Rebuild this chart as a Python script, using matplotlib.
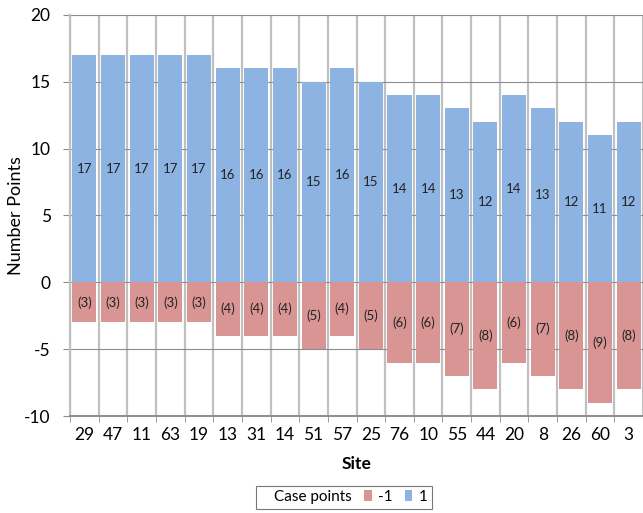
import matplotlib
matplotlib.use("Agg")
import matplotlib.pyplot as plt
import numpy as np
from matplotlib.patches import Patch
from matplotlib.lines import Line2D

plt.rcParams["font.family"] = ["Lato", "DejaVu Sans"]
plt.rcParams["axes.unicode_minus"] = False

sites = ["29", "47", "11", "63", "19", "13", "31", "14", "51", "57",
         "25", "76", "10", "55", "44", "20", "8", "26", "60", "3"]
pos_pts = [17, 17, 17, 17, 17, 16, 16, 16, 15, 16, 15, 14, 14, 13, 12, 14, 13, 12, 11, 12]
neg_pts = [3, 3, 3, 3, 3, 4, 4, 4, 5, 4, 5, 6, 6, 7, 8, 6, 7, 8, 9, 8]

BLUE = "#8db3e2"
RED = "#d99594"
GRID = "#c0c0c0"
AXIS = "#8c8c8c"

fig = plt.figure(figsize=(6.43, 5.13), dpi=100)
ax = fig.add_axes([0.109, 0.189, 0.891, 0.782])

x = np.arange(len(sites))
neg = -np.array(neg_pts)
ax.bar(x, pos_pts, width=0.84, color=BLUE, zorder=3)
ax.bar(x, neg, width=0.84, color=RED, zorder=3)

for xi, p, n in zip(x, pos_pts, neg):
    ax.text(xi, p / 2, str(p), ha="center", va="center", fontsize=9.5, color="#222222", zorder=4)
    ax.text(xi, n / 2, "(%d)" % -n, ha="center", va="center", fontsize=9.5, color="#222222", zorder=4)

ax.set_xlim(-0.5, len(sites) - 0.5)
ax.set_ylim(-10, 20)
ax.set_yticks(range(-10, 21, 5))
ax.set_xticks(x)
ax.set_xticklabels(sites)
ax.set_xticks(np.arange(-0.5, len(sites)), minor=True)

# category separators and value grid
ax.grid(axis="x", which="minor", color=GRID, lw=1.6, zorder=1)
ax.grid(axis="y", which="major", color=AXIS, lw=0.8, zorder=2)
ax.tick_params(axis="x", which="major", length=0, labelsize=12.5, pad=8)
ax.tick_params(axis="x", which="minor", length=4, color=AXIS)
ax.tick_params(axis="y", length=5, color=AXIS, labelsize=12.5, pad=9)
for s in ("top", "right"):
    ax.spines[s].set_visible(False)
ax.spines["left"].set_color(GRID)
ax.spines["left"].set_linewidth(1.6)
ax.spines["bottom"].set_color(AXIS)
ax.spines["bottom"].set_linewidth(1.4)

ax.set_xlabel("Site", fontsize=12.5, fontweight="bold", labelpad=9)
ax.set_ylabel("Number Points", fontsize=13, labelpad=0)

handles = [Line2D([], [], ls="none"),
           Patch(facecolor=RED, edgecolor="none"),
           Patch(facecolor=BLUE, edgecolor="none")]
leg = fig.legend(handles, ["Case points", "-1", "1"], ncol=3, loc="center",
                 bbox_to_anchor=(0.535, 0.031), fontsize=11, frameon=True,
                 fancybox=False, edgecolor="#555555", handlelength=0.5,
                 handleheight=0.7, handletextpad=0.4, columnspacing=0.8,
                 borderpad=0.3)
leg.get_frame().set_linewidth(0.8)

fig.savefig("out.png", dpi=100)
